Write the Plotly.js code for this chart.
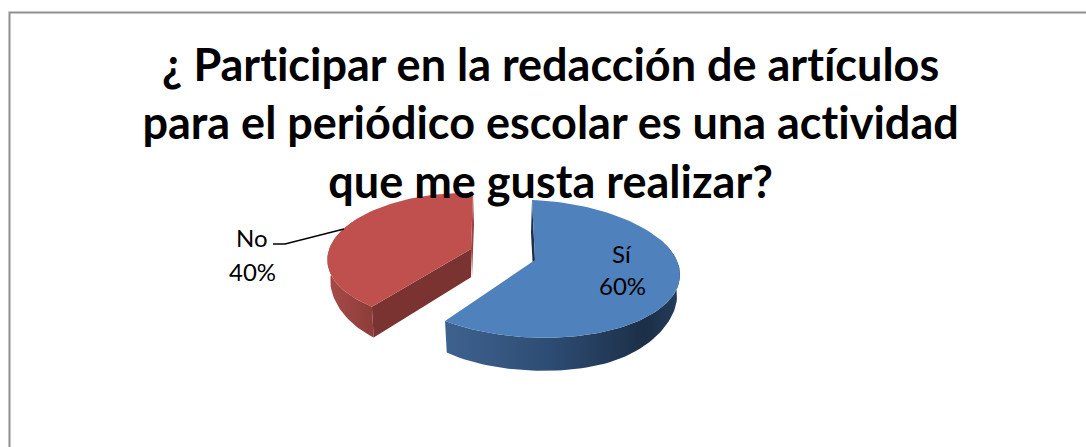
<!DOCTYPE html>
<html>
<head>
<meta charset="utf-8">
<script src="https://cdn.plot.ly/plotly-3.0.1.min.js"></script>
<style>
html, body { margin: 0; padding: 0; background: #fff; }
#chart { width: 1086px; height: 447px; }
#chart text { font-variant-ligatures: none !important; font-feature-settings: "liga" 0, "clig" 0 !important; }
</style>
</head>
<body>
<div id="chart"></div>
<script>
const categories = ['Sí', 'No'];
const percents = [60, 40];
const titleLines = [
    '¿ Participar en la redacción de artículos',
    'para el periódico escolar es una actividad',
    'que me gusta realizar?'
];

const faceColors = ['#4f81bd', '#c0504d'];
const cutColors = ['#1d3048', '#7b3331'];
const rimGradients = [
    [[0, '#3e628f'], [0.45, '#2d4c73'], [0.85, '#1c2f47'], [1, '#243c5b']],
    [[0, '#a84b48'], [1, '#8c3c3a']]
];

// the exploded slices do not share a centre, and the tilt skews each ellipse a bit
const slices = [
    { ax: 535, ay: 260, cx: -3, a: 148, b: 0, cy: 8.8, d: -68.8, e: 6, depth: 33, cutDx: -1 },
    { ax: 471, ay: 249, cx: -11, a: 132, b: 13, cy: 8, d: -64, e: 3.5, depth: 32, cutDx: 1 }
];

const rad = deg => deg * Math.PI / 180;

function rimPoint(s, deg) {
    const sin = Math.sin(rad(deg)), cos = Math.cos(rad(deg));
    return [s.ax + s.cx + s.a * sin + s.b * cos, s.ay + s.cy + s.d * cos + s.e * sin];
}

function floorPoint(s, deg) {
    const sin = Math.sin(rad(deg));
    const p = rimPoint(s, deg);
    return [p[0] - 3 * sin, p[1] + s.depth * (1 - 0.35 * Math.pow(sin, 4))];
}

function arc(from, to) {
    const out = [];
    const n = Math.max(1, Math.ceil(Math.abs(to - from) / 2));
    for (let i = 0; i <= n; i++) out.push(from + (to - from) * i / n);
    return out;
}

function polygon(points, extra) {
    return Object.assign({
        x: points.map(p => p[0]),
        y: points.map(p => p[1]),
        type: 'scatter',
        mode: 'lines',
        fill: 'toself',
        line: { width: 0 },
        hoverinfo: 'skip',
        showlegend: false
    }, extra);
}

const total = percents.reduce((sum, v) => sum + v, 0);
const traces = [];
let angle = 0;

percents.forEach((value, i) => {
    const s = slices[i];
    const start = angle;
    const end = angle + value / total * 360;
    angle = end;
    const apex = [s.ax, s.ay];
    const apexLow = [s.ax, s.ay + s.depth * 0.88];

    // outer wall, only the part of the rim that faces the viewer
    const wallFrom = Math.max(start, 60), wallTo = Math.min(end, 300);
    const wall = arc(wallFrom, wallTo);
    const wallPts = wall.map(t => rimPoint(s, t)).concat(wall.slice().reverse().map(t => floorPoint(s, t)));
    traces.push(polygon(wallPts, {
        fillcolor: faceColors[i],
        fillgradient: { type: 'horizontal', colorscale: rimGradients[i] }
    }));

    // cut faces
    if (i === 0) {
        const top = rimPoint(s, start);
        traces.push(polygon([top, apex, [apexLow[0] + s.cutDx, apexLow[1]], [top[0] + s.cutDx, top[1] + s.depth]],
            { fillcolor: cutColors[i] }));
    } else {
        const low = rimPoint(s, start);
        const lowFloor = floorPoint(s, start);
        traces.push(polygon([apex, low, lowFloor, apexLow], { fillcolor: cutColors[i] }));
        const top = rimPoint(s, end);
        traces.push(polygon([top, apex, [apexLow[0] + s.cutDx, apexLow[1]], [top[0] + s.cutDx, top[1] + s.depth]],
            { fillcolor: '#9a4442' }));
    }

    // top face
    const facePts = [apex].concat(arc(start, end).map(t => rimPoint(s, t)));
    traces.push(polygon(facePts, { fillcolor: faceColors[i] }));
});

const labelFont = { family: 'Lato, sans-serif', size: 24, color: '#000000' };
const labelSpots = [
    { x: 622, name: 253, pct: 285 },
    { x: 252, name: 237, pct: 271 }
];
const annotations = [];
categories.forEach((name, i) => {
    const spot = labelSpots[i];
    [[name, spot.name], [percents[i] + '%', spot.pct]].forEach(pair => {
        annotations.push({
            text: pair[0], x: spot.x, y: pair[1], xref: 'x', yref: 'y',
            showarrow: false, xanchor: 'center', yanchor: 'middle', font: labelFont
        });
    });
});

const layout = {
    width: 1086,
    height: 447,
    margin: { l: 0, r: 0, t: 0, b: 0 },
    paper_bgcolor: '#ffffff',
    plot_bgcolor: '#ffffff',
    showlegend: false,
    title: {
        text: titleLines.join('<br>'),
        font: { family: 'Lato, sans-serif', size: 45, weight: 700, color: '#000000' },
        x: 0.507,
        xanchor: 'center',
        y: 0.819,
        yanchor: 'top',
        automargin: false
    },
    xaxis: { range: [0, 1086], visible: false, fixedrange: true },
    yaxis: { range: [447, 0], visible: false, fixedrange: true },
    annotations: annotations,
    shapes: [
        // frame only has its top and left edges inside the crop
        { type: 'path', xref: 'x', yref: 'y', path: 'M 9.5,447 L 9.5,12.5 L 1086,12.5',
          line: { color: '#8f8f8f', width: 2 } },
        { type: 'path', xref: 'x', yref: 'y', path: 'M 273,244 L 285,244 L 344,229',
          line: { color: '#000000', width: 1.5 } }
    ]
};

Plotly.newPlot('chart', traces, layout, { staticPlot: true, displayModeBar: false });
</script>
</body>
</html>
